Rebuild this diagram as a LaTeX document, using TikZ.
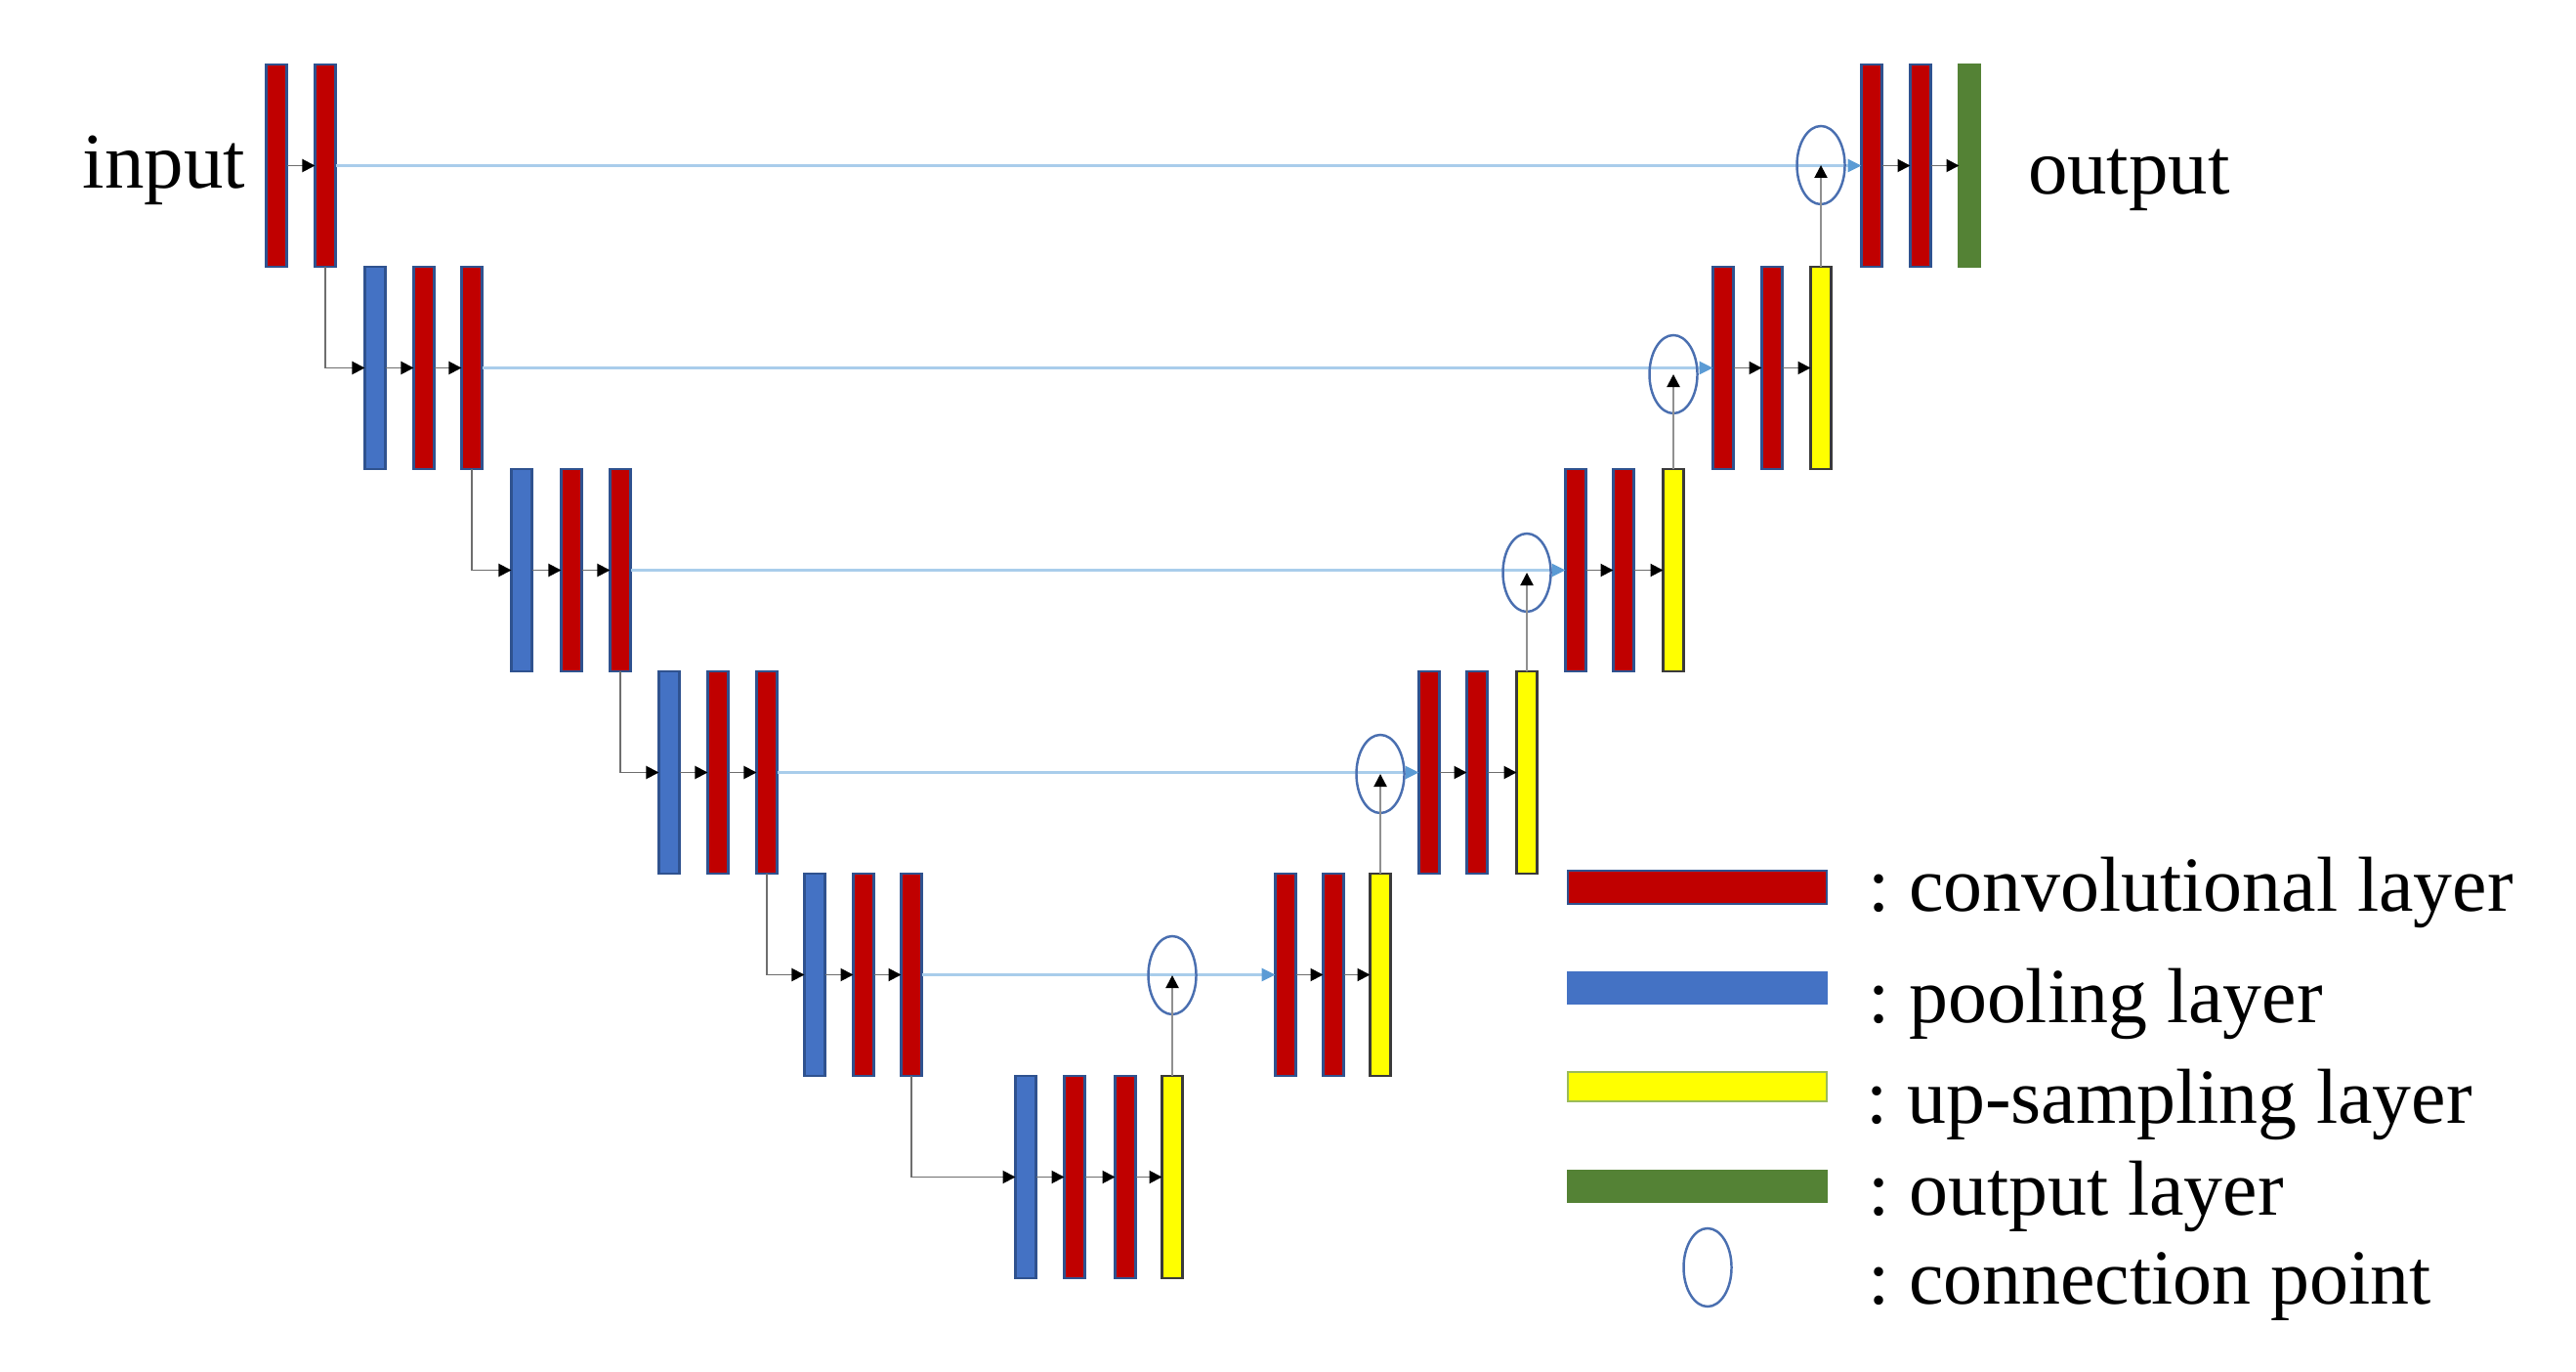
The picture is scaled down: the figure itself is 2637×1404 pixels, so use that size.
\documentclass[tikz,border=0pt]{standalone}
\usepackage{fontspec}
\setmainfont{Liberation Serif}
\usetikzlibrary{arrows.meta,shapes.geometric}
\definecolor{convred}{HTML}{C00000}
\definecolor{poolblue}{HTML}{4472C4}
\definecolor{baredge}{HTML}{2F528F}
\definecolor{upyellow}{HTML}{FFFF00}
\definecolor{upedge}{HTML}{3A3A3A}
\definecolor{outgreen}{HTML}{548235}
\definecolor{skipline}{HTML}{A9CDEB}
\definecolor{skiptip}{HTML}{5B9BD5}
\definecolor{cpblue}{HTML}{4A6FB0}
\definecolor{flowgray}{HTML}{6E6E6E}
\definecolor{upgray}{HTML}{909090}
\definecolor{legyedge}{HTML}{9BBB59}
\tikzset{
  bar/.style={rectangle, inner sep=0pt, outer sep=0pt, minimum width=0.21cm, minimum height=2.07cm, line width=0.6pt},
  conv/.style={bar, fill=convred, draw=baredge},
  pool/.style={bar, fill=poolblue, draw=baredge},
  ups/.style={bar, fill=upyellow, draw=upedge},
  outl/.style={bar, fill=outgreen, draw=outgreen},
  flow/.style={draw=flowgray, line width=0.55pt, -{Triangle[length=0.13cm,width=0.13cm,color=black]}},
  skip/.style={draw=skipline, line width=0.9pt, -{Triangle[length=0.14cm,width=0.13cm,color=skiptip]}},
  upflow/.style={draw=upgray, line width=0.6pt, -{Triangle[length=0.13cm,width=0.13cm,color=black]}},
  cpoint/.style={ellipse, draw=cpblue, line width=0.7pt, minimum width=0.49cm, minimum height=0.8cm, inner sep=0pt, outer sep=0pt},
  legbar/.style={rectangle, inner sep=0pt, outer sep=0pt, minimum width=2.65cm, line width=0.6pt},
  lbl/.style={inner sep=0pt, outer sep=0pt, font=\fontsize{23}{28}\selectfont},
  legtxt/.style={inner sep=0pt, outer sep=0pt, font=\fontsize{22.7}{27}\selectfont, anchor=base west}
}
\begin{document}
\begin{tikzpicture}[x=0.01cm,y=-0.01cm]
\useasboundingbox (0,0) rectangle (2637,1404);
% left (encoder) bars
\node[conv] (L0a) at (283,169.5) {};
\node[conv] (L0b) at (333,169.5) {};
\node[pool] (L1p) at (384,376.5) {};
\node[conv] (L1a) at (434,376.5) {};
\node[conv] (L1b) at (483,376.5) {};
\node[pool] (L2p) at (534,583.5) {};
\node[conv] (L2a) at (585,583.5) {};
\node[conv] (L2b) at (635,583.5) {};
\node[pool] (L3p) at (685,790.5) {};
\node[conv] (L3a) at (735,790.5) {};
\node[conv] (L3b) at (785,790.5) {};
\node[pool] (L4p) at (834,997.5) {};
\node[conv] (L4a) at (884,997.5) {};
\node[conv] (L4b) at (933,997.5) {};
\node[pool] (L5p) at (1050,1204.5) {};
\node[conv] (L5a) at (1100,1204.5) {};
\node[conv] (L5b) at (1152,1204.5) {};
\node[ups] (L5u) at (1200,1204.5) {};
% right (decoder) bars
\node[conv] (R4a) at (1316,997.5) {};
\node[conv] (R4b) at (1365,997.5) {};
\node[ups] (R4u) at (1413,997.5) {};
\node[conv] (R3a) at (1463,790.5) {};
\node[conv] (R3b) at (1512,790.5) {};
\node[ups] (R3u) at (1563,790.5) {};
\node[conv] (R2a) at (1613,583.5) {};
\node[conv] (R2b) at (1662,583.5) {};
\node[ups] (R2u) at (1713,583.5) {};
\node[conv] (R1a) at (1764,376.5) {};
\node[conv] (R1b) at (1814,376.5) {};
\node[ups] (R1u) at (1864,376.5) {};
\node[conv] (R0a) at (1916,169.5) {};
\node[conv] (R0b) at (1966,169.5) {};
\node[outl] (R0o) at (2016,169.5) {};
% skip connections
\draw[skip] (L0b.east) -- (R0a.west);
\draw[skip] (L1b.east) -- (R1a.west);
\draw[skip] (L2b.east) -- (R2a.west);
\draw[skip] (L3b.east) -- (R3a.west);
\draw[skip] (L4b.east) -- (R4a.west);
% connection points
\node[cpoint] (C4) at (1200,998) {};
\node[cpoint] (C3) at (1413,792) {};
\node[cpoint] (C2) at (1563,586) {};
\node[cpoint] (C1) at (1713,383) {};
\node[cpoint] (C0) at (1864,169) {};
% up-sampling to connection points
\draw[upflow] (L5u.north) -- (C4.center);
\draw[upflow] (R4u.north) -- (C3.center);
\draw[upflow] (R3u.north) -- (C2.center);
\draw[upflow] (R2u.north) -- (C1.center);
\draw[upflow] (R1u.north) -- (C0.center);
% encoder elbows
\draw[flow] (L0b.south) |- (L1p.west);
\draw[flow] (L1b.south) |- (L2p.west);
\draw[flow] (L2b.south) |- (L3p.west);
\draw[flow] (L3b.south) |- (L4p.west);
\draw[flow] (L4b.south) |- (L5p.west);
% in-row arrows
\draw[flow] (L0a.east) -- (L0b.west);
\draw[flow] (L1p.east) -- (L1a.west);
\draw[flow] (L1a.east) -- (L1b.west);
\draw[flow] (L2p.east) -- (L2a.west);
\draw[flow] (L2a.east) -- (L2b.west);
\draw[flow] (L3p.east) -- (L3a.west);
\draw[flow] (L3a.east) -- (L3b.west);
\draw[flow] (L4p.east) -- (L4a.west);
\draw[flow] (L4a.east) -- (L4b.west);
\draw[flow] (L5p.east) -- (L5a.west);
\draw[flow] (L5a.east) -- (L5b.west);
\draw[flow] (L5b.east) -- (L5u.west);
\draw[flow] (R4a.east) -- (R4b.west);
\draw[flow] (R4b.east) -- (R4u.west);
\draw[flow] (R3a.east) -- (R3b.west);
\draw[flow] (R3b.east) -- (R3u.west);
\draw[flow] (R2a.east) -- (R2b.west);
\draw[flow] (R2b.east) -- (R2u.west);
\draw[flow] (R1a.east) -- (R1b.west);
\draw[flow] (R1b.east) -- (R1u.west);
\draw[flow] (R0a.east) -- (R0b.west);
\draw[flow] (R0b.east) -- (R0o.west);
% labels
\node[lbl, anchor=base east] (tin) at (251,193) {input};
\node[lbl, anchor=base west] (tout) at (2076,199) {output};
% legend
\node[legbar, minimum height=0.34cm, fill=convred, draw=baredge] (K1) at (1737.5,908) {};
\node[legbar, minimum height=0.32cm, fill=poolblue, draw=poolblue] (K2) at (1737.5,1011) {};
\node[legbar, minimum height=0.30cm, fill=upyellow, draw=legyedge] (K3) at (1737.5,1112) {};
\node[legbar, minimum height=0.32cm, fill=outgreen, draw=outgreen] (K4) at (1737.5,1214) {};
\node[cpoint] (K5) at (1748,1297) {};
\node[legtxt] (T1) at (1912,932) {:\hspace{0.25em}convolutional layer};
\node[legtxt] (T2) at (1912,1046) {:\hspace{0.25em}pooling layer};
\node[legtxt] (T3) at (1910,1149) {:\hspace{0.25em}up-sampling layer};
\node[legtxt] (T4) at (1912,1243) {:\hspace{0.25em}output layer};
\node[legtxt] (T5) at (1912,1334) {:\hspace{0.25em}connection point};
\end{tikzpicture}
\end{document}
